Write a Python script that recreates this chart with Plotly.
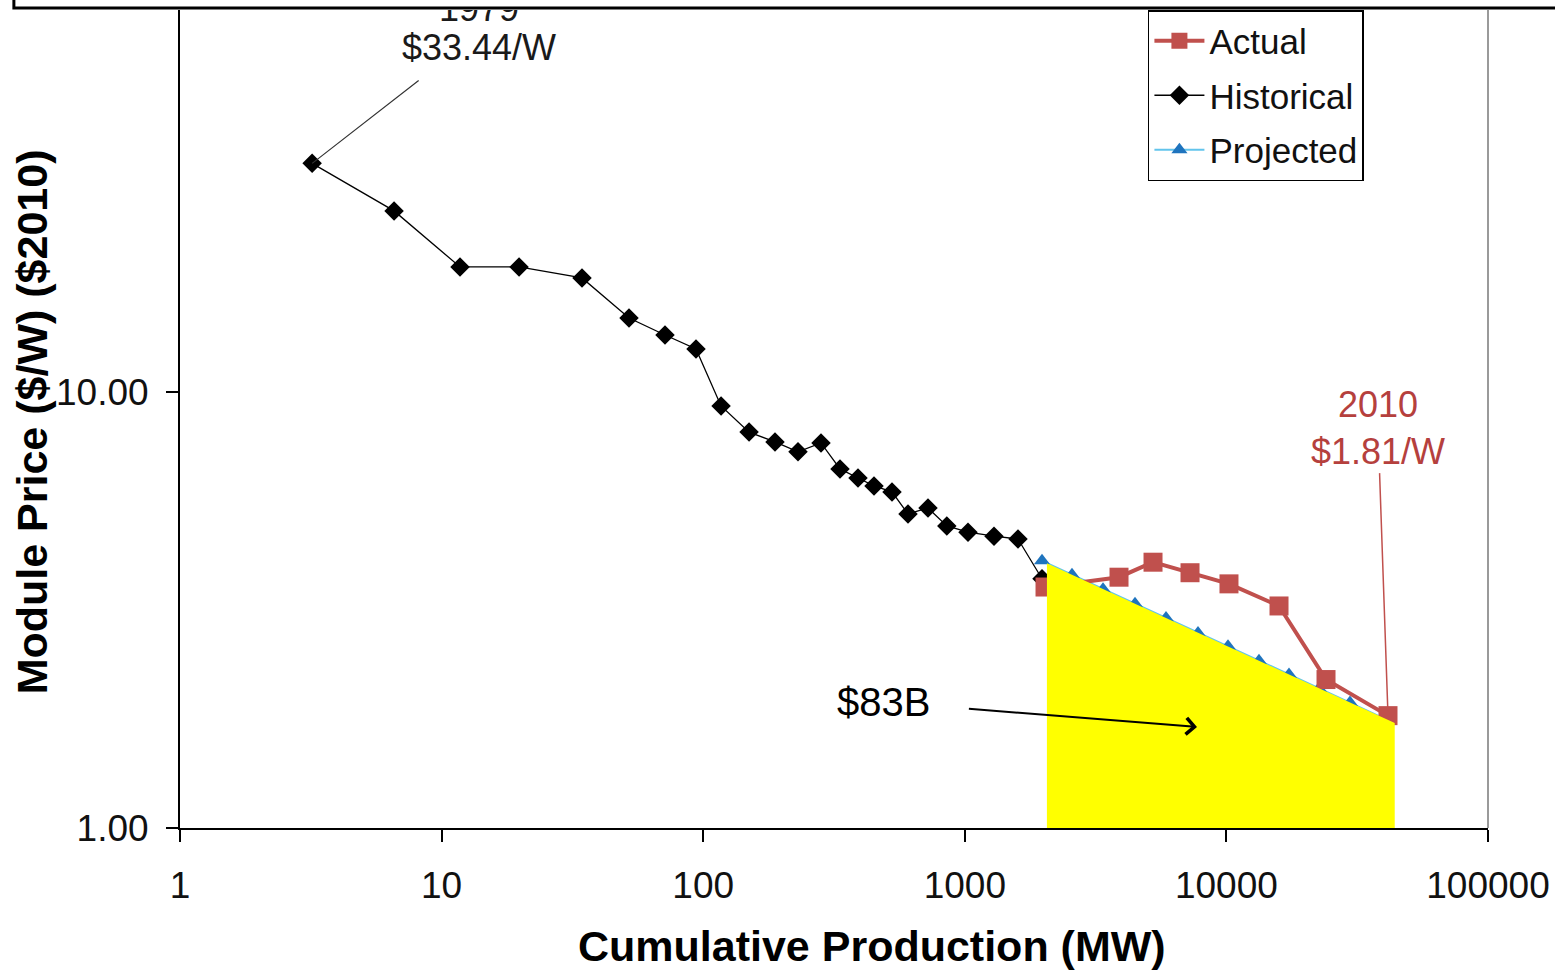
import math
import plotly.graph_objects as go

# ---------------- data ----------------
hist_mw = [3.20, 6.58, 11.76, 19.77, 34.42, 52.05, 71.45, 93.86, 117.0, 149.7,
           188.1, 230.4, 282.0, 333.4, 390.6, 449.7, 526.8, 606.6, 723.3, 853.6,
           1028.5, 1293, 1597, 1973]
hist_price = [33.44, 26.02, 19.35, 19.35, 18.26, 14.78, 13.51, 12.55, 9.29, 8.09,
              7.68, 7.29, 7.64, 6.66, 6.35, 6.09, 5.90, 5.25, 5.42, 4.93,
              4.77, 4.67, 4.60, 3.73]

actual_mw = [2026, 3886, 5242, 7260, 10230, 15890, 24030, 41470]
actual_price = [3.57, 3.76, 4.07, 3.85, 3.63, 3.23, 2.19, 1.81]

proj_mw = [1973, 2569, 3376, 4473, 5877, 7788, 10141, 13321, 17350, 22594, 29685, 41115]
proj_price = [4.10, 3.81, 3.53, 3.27, 3.03, 2.80, 2.61, 2.42, 2.25, 2.09, 1.94, 1.77]

# shaded "learning investment" area under the projected curve
area_mw = [2060, 44000]
area_price = [4.05, 1.74]
area_floor = 1.0

x_ticks = [1, 10, 100, 1000, 10000, 100000]
x_ticktext = ["1", "10", "100", "1000", "10000", "100000"]
y_ticks = [1, 10]
y_ticktext = ["1.00", "10.00"]

label_1979 = ["1979", "$33.44/W"]
label_2010 = "2010<br>$1.81/W"
label_area = "$83B"

FONT = "Liberation Sans, Arial, Helvetica, sans-serif"
RED = "#C0504D"
BLUE = "#1F74BE"
LIGHTBLUE = "#62C4EC"

fig = go.Figure()

fig.add_trace(go.Scatter(
    x=hist_mw, y=hist_price, name="Historical", mode="lines+markers",
    line=dict(color="black", width=1.3),
    marker=dict(symbol="diamond", size=15, color="black"),
    legendrank=2, legendgroup="h",
))
fig.add_trace(go.Scatter(
    x=proj_mw, y=proj_price, name="Projected", mode="lines+markers",
    line=dict(color=LIGHTBLUE, width=2),
    marker=dict(symbol="triangle-up", size=14, color=BLUE),
    legendrank=3, legendgroup="p",
))
fig.add_trace(go.Scatter(
    x=actual_mw, y=actual_price, name="Actual", mode="lines+markers",
    line=dict(color=RED, width=4),
    marker=dict(symbol="square", size=19, color=RED),
    legendrank=1, legendgroup="a",
))
# yellow area
fig.add_trace(go.Scatter(
    x=area_mw + area_mw[::-1],
    y=area_price + [area_floor, area_floor],
    mode="lines", fill="toself", fillcolor="#FFFF00",
    line=dict(width=0, color="#FFFF00"),
    showlegend=False, hoverinfo="skip",
))
# 1979 label (clipped at the top of the plot area like the reference)
fig.add_trace(go.Scatter(
    x=[13.9, 13.9], y=[74.4, 60.6], text=label_1979, mode="text",
    textfont=dict(family=FONT, size=36, color="#1a1a1a"),
    textposition="middle center", cliponaxis=True,
    showlegend=False, hoverinfo="skip",
))

fig.update_xaxes(
    type="log", range=[0, 5], automargin=False,
    tickvals=x_ticks, ticktext=x_ticktext,
    ticks="outside", ticklen=12, tickwidth=1.5, tickcolor="black",
    showline=True, linecolor="black", linewidth=2,
    showgrid=False, zeroline=False,
    tickfont=dict(family=FONT, size=37, color="#111"),
    ticklabelstandoff=12,
)
fig.update_yaxes(
    type="log", range=[0, 1.876], automargin=False,
    tickvals=y_ticks, ticktext=y_ticktext,
    ticks="outside", ticklen=12, tickwidth=1.5, tickcolor="black",
    showline=True, linecolor="black", linewidth=2,
    showgrid=False, zeroline=False,
    tickfont=dict(family=FONT, size=37, color="#111"),
    ticklabelstandoff=10,
)

annotations = [
    # leader line for 1979
    dict(x=math.log10(hist_mw[0]), y=math.log10(hist_price[0]), xref="x", yref="y",
         text="", showarrow=True, arrowhead=0, arrowwidth=1.2, arrowcolor="#333",
         ax=108, ay=-84),
    # 2010 label
    dict(x=math.log10(actual_mw[-1]), y=math.log10(actual_price[-1]), xref="x", yref="y",
         text=label_2010, showarrow=True, arrowhead=0, arrowwidth=1.5, arrowcolor=RED,
         ax=-10, ay=-288, font=dict(family=FONT, size=36, color="#B5403D"),
         standoff=4),
    # $83B arrow
    dict(x=math.log10(7720), y=math.log10(1.705), xref="x", yref="y",
         text=label_area, showarrow=True, arrowhead=4, arrowsize=1.6, arrowwidth=2,
         arrowcolor="black", ax=-314, ay=-25, startstandoff=38,
         font=dict(family=FONT, size=40, color="black")),
    # axis titles
    dict(x=0.529, y=-0.1443, xref="paper", yref="paper", xanchor="center", yanchor="middle",
         text="Cumulative Production (MW)", showarrow=False,
         font=dict(family=FONT, size=43, color="black", weight="bold")),
    dict(x=-0.1131, y=0.496, xref="paper", yref="paper", xanchor="center", yanchor="middle",
         text="Module Price ($/W) ($2010)", showarrow=False, textangle=-90,
         font=dict(family=FONT, size=43, color="black", weight="bold")),
]

shapes = [
    # outer frame edge at the top of the picture
    dict(type="rect", xref="paper", yref="paper", x0=-0.127, x1=1.06, y0=1.0024, y1=1.06,
         line=dict(color="black", width=3), fillcolor="rgba(0,0,0,0)", layer="above"),
    # right border of plot area
    dict(type="line", xref="paper", yref="paper", x0=1, x1=1, y0=0, y1=1,
         line=dict(color="#9a9a9a", width=2)),
]

fig.update_layout(
    width=1555, height=970,
    margin=dict(l=180, r=67, t=10, b=142, autoexpand=False),
    paper_bgcolor="white", plot_bgcolor="white",
    font=dict(family=FONT, color="#111"),
    annotations=annotations, shapes=shapes,
    showlegend=True,
    legend=dict(
        x=0.740, y=1.0, xanchor="left", yanchor="top",
        bgcolor="white", bordercolor="black", borderwidth=1.5,
        font=dict(family=FONT, size=35, color="#111"),
        itemwidth=50, tracegroupgap=6, traceorder="grouped",
    ),
)

fig.write_html("out.html", config={"displayModeBar": False},
               post_script="document.body.style.margin='0';")
